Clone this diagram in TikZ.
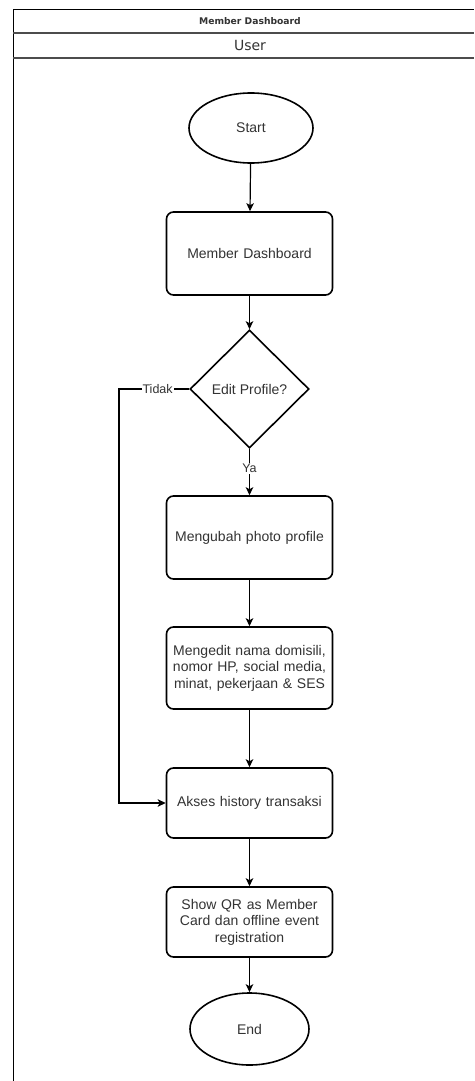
\documentclass[tikz,border=0pt]{standalone}
\usepackage{fontspec}
\setmainfont{Liberation Sans}
\newfontfamily\headfont{DejaVu Sans}
\usetikzlibrary{shapes.geometric,arrows.meta}
\definecolor{ink}{HTML}{333333}
\begin{document}
\begin{tikzpicture}[x=1pt,y=-1pt,
  every node/.style={text=ink},
  shapeline/.style={draw=black,line width=1.6pt,fill=white},
  terminal/.style={shapeline,ellipse,inner sep=0pt,font=\fontsize{14}{16.5}\selectfont},
  stepbox/.style={shapeline,rectangle,rounded corners=7pt,minimum width=166pt,inner sep=2pt,
    align=center,text width=158pt,font=\fontsize{14}{16.5}\selectfont},
  decision/.style={shapeline,diamond,minimum width=119pt,minimum height=118pt,inner sep=0pt,
    font=\fontsize{14}{16.5}\selectfont},
  flow/.style={draw=black,line width=1.2pt,-{Stealth[length=8pt,width=7.5pt,inset=2pt]}},
  lbl/.style={fill=white,inner sep=1pt,font=\fontsize{12.5}{14}\selectfont},
  lane/.style={draw=black,line width=1pt},
  laneinner/.style={draw=black!70,line width=1.6pt}]
\useasboundingbox[fill=white] (0,0) rectangle (474,1081);

% swimlane frame and header rows
\draw[lane] (13,1081) -- (13,10) -- (474,10);
\draw[laneinner] (13,33) -- (474,33);
\draw[laneinner] (13,58) -- (474,58);
\node[font=\headfont\bfseries\fontsize{9.2}{11}\selectfont] (title) at (250,21.5) {Member Dashboard};
\node[font=\headfont\fontsize{14}{16}\selectfont] (lanename) at (250,45.5) {User};

% flow nodes
\node[terminal,minimum width=124pt,minimum height=70pt] (start) at (251,128) {Start};
\node[stepbox,minimum height=83pt] (dash) at (249.5,253.5) {Member Dashboard};
\node[decision] (dec) at (249.5,389) {Edit Profile?};
\node[stepbox,minimum height=83pt] (photo) at (249.5,537.5) {Mengubah photo profile};
\node[stepbox,minimum height=82pt] (edit) at (249.5,668) {Mengedit nama domisili,\\nomor HP, social media,\\minat, pekerjaan \& SES};
\node[stepbox,minimum height=70pt] (hist) at (249.5,803) {Akses history transaksi};
\node[stepbox,minimum height=70pt] (qr) at (249.5,922) {Show QR as Member\\Card dan offline event\\registration};
\node[terminal,minimum width=119pt,minimum height=72pt] (end) at (249.5,1029) {End};

% connectors
\coordinate (nobend) at (119,389);
\draw[flow] (start) -- (dash);
\draw[flow] (dash) -- (dec);
\draw[flow] (dec.south) -- node[lbl,pos=0.42] (ya) {Ya} (photo.north);
\draw[flow] (photo) -- (edit);
\draw[flow] (edit) -- (hist);
\draw[flow] (hist) -- (qr);
\draw[flow] (qr) -- (end);
\draw[flow] (dec.west) -- node[lbl,pos=0.45] (tidak) {Tidak} (nobend) |- (hist.west);
\end{tikzpicture}
\end{document}
